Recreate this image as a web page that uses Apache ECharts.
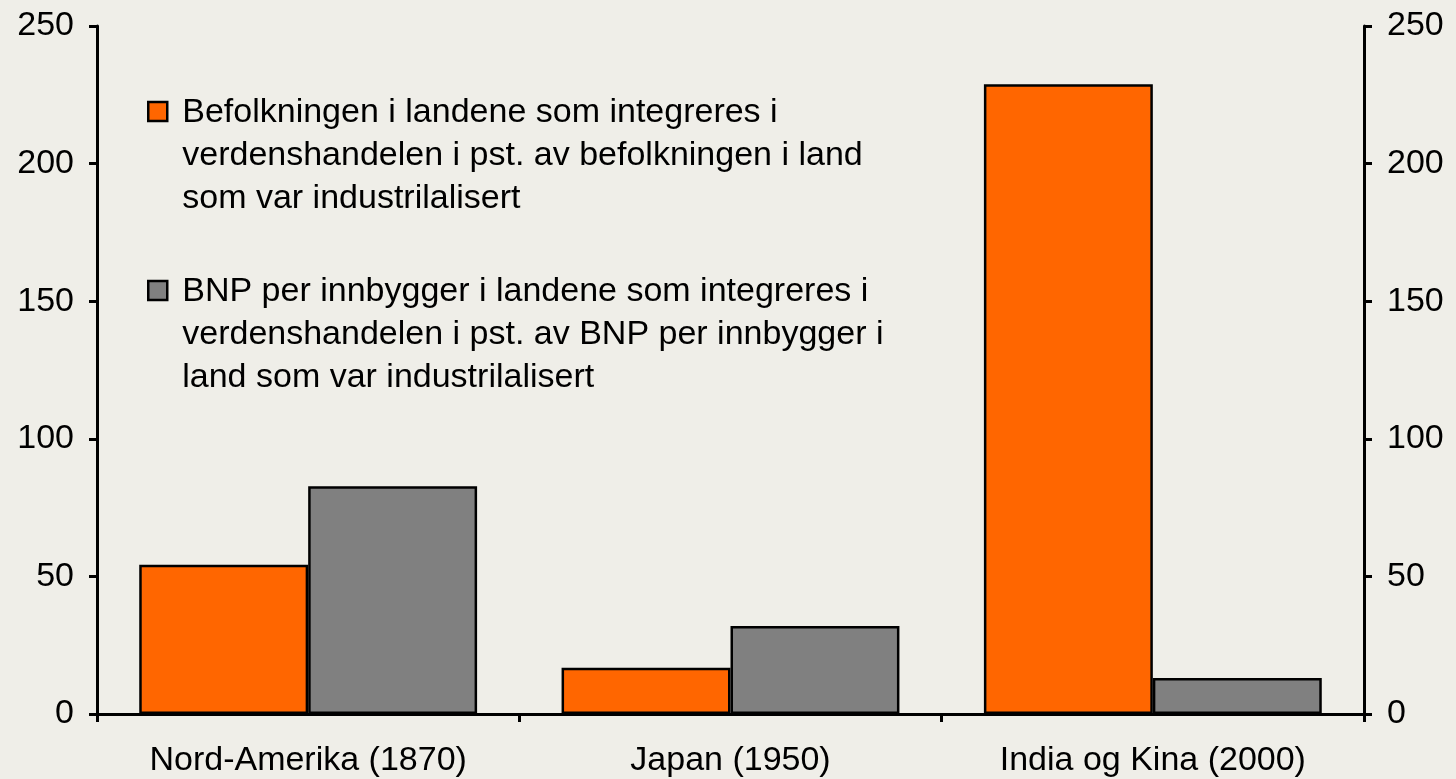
<!DOCTYPE html>
<html>
<head>
<meta charset="utf-8">
<script src="https://cdn.jsdelivr.net/npm/echarts@6/dist/echarts.min.js"></script>
<style>html,body{margin:0;padding:0;background:#EFEEE8;}#c{width:1456px;height:779px;}</style>
</head>
<body>
<div id="c"></div>
<script>
const categories = ['Nord-Amerika (1870)', 'Japan (1950)', 'India og Kina (2000)'];
const befolkning = [54.2, 16.8, 228.8];
const bnp = [82.8, 32.0, 13.1];
const seriesNames = [
  'Befolkningen i landene som integreres i\nverdenshandelen i pst. av befolkningen i land\nsom var industrilalisert',
  'BNP per innbygger i landene som integreres i\nverdenshandelen i pst. av BNP per innbygger i\nland som var industrilalisert'
];
const yTicks = [0, 50, 100, 150, 200, 250];

const FONT = '"Liberation Sans", Arial, sans-serif';
const FS = 34;
const chart = echarts.init(document.getElementById('c'));
const yAxisBase = {
  type: 'value', min: yTicks[0], max: yTicks[yTicks.length - 1], interval: 50,
  axisLine: {show: true, lineStyle: {color: '#000', width: 3}},
  axisTick: {show: true, length: 8, lineStyle: {color: '#000', width: 3}},
  axisLabel: {color: '#000', fontSize: FS, fontFamily: FONT, margin: 23},
  splitLine: {show: false}
};
function legendItem(top, color, text) {
  return {
    type: 'group', left: 147, top: top,
    children: [
      {type: 'rect', shape: {x: 1, y: 11, width: 19, height: 19},
       style: {fill: color, stroke: '#000', lineWidth: 2.5}},
      {type: 'text', x: 35, y: 0,
       style: {text: text, font: FS + 'px ' + FONT, fill: '#000', lineHeight: 43, textVerticalAlign: 'top'}}
    ]
  };
}
chart.setOption({
  backgroundColor: '#EFEEE8',
  animation: false,
  grid: {left: 97, right: 92, top: 26, bottom: 65},
  xAxis: {
    type: 'category', data: categories,
    axisLine: {lineStyle: {color: '#000', width: 3}},
    axisTick: {show: true, length: 8, lineStyle: {color: '#000', width: 3}},
    axisLabel: {color: '#000', fontSize: FS, fontFamily: FONT, margin: 30}
  },
  yAxis: [
    Object.assign({}, yAxisBase, {position: 'left'}),
    Object.assign({}, yAxisBase, {position: 'right'})
  ],
  legend: {show: false, data: seriesNames},
  graphic: [
    legendItem(91, '#FF6600', seriesNames[0]),
    legendItem(270, '#808080', seriesNames[1])
  ],
  series: [
    {name: seriesNames[0], type: 'bar', data: befolkning, barGap: '0%', barCategoryGap: '20%',
     itemStyle: {color: '#FF6600', borderColor: '#000', borderWidth: 2.5}},
    {name: seriesNames[1], type: 'bar', data: bnp,
     itemStyle: {color: '#808080', borderColor: '#000', borderWidth: 2.5}}
  ]
});
</script>
</body>
</html>
